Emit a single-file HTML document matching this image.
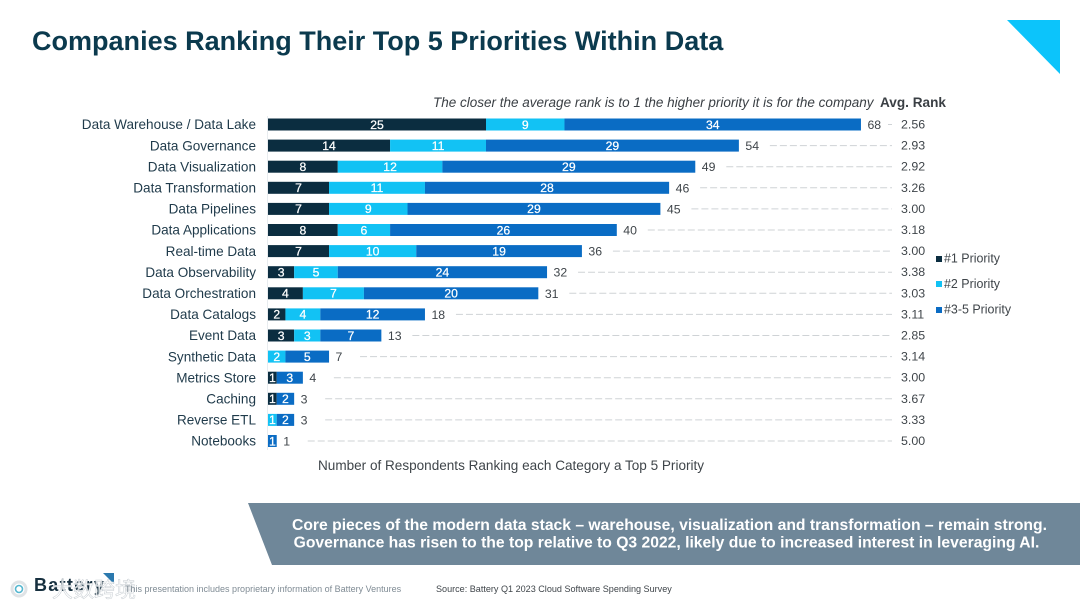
<!DOCTYPE html>
<html lang="en">
<head>
<meta charset="utf-8">
<title>Companies Ranking Their Top 5 Priorities Within Data</title>
<style>
html,body{margin:0;padding:0;background:#fff;width:1080px;height:608px;overflow:hidden}
svg{display:block;font-family:"Liberation Sans",Arial,sans-serif;filter:blur(0.35px)}
</style>
</head>
<body>
<svg id="slide" width="1080" height="608" viewBox="0 0 1080 608" xmlns="http://www.w3.org/2000/svg">
  <rect width="1080" height="608" fill="#ffffff"/>
  <text x="32" y="50" font-size="27.03" font-weight="700" fill="#0b3a4e">Companies Ranking Their Top 5 Priorities Within Data</text>
  <polygon points="1007,20 1060,20 1060,74" fill="#0cc4fb"/>
  <text x="433" y="107" font-size="13.5" font-style="italic" fill="#3a3f44">The closer the average rank is to 1 the higher priority it is for the company</text>
  <text x="880" y="107" font-size="13.6" font-weight="700" fill="#3a3f44">Avg. Rank</text>
  <line x1="267.5" y1="116" x2="267.5" y2="450" stroke="#e8ecef" stroke-width="1"/>
  <g id="chart"></g>
  <g font-size="12.45" fill="#3f454a">
    <g>
      <rect x="936" y="256" width="6" height="6" fill="#0b2d40"/>
      <text x="944" y="262.5">#1 Priority</text>
    </g>
    <g>
      <rect x="936" y="281" width="6" height="6" fill="#12c2f4"/>
      <text x="944" y="288">#2 Priority</text>
    </g>
    <g>
      <rect x="936" y="307" width="6" height="6" fill="#0a6cc4"/>
      <text x="944" y="313.5">#3-5 Priority</text>
    </g>
  </g>
  <text x="318" y="470" font-size="13.55" fill="#3f454a">Number of Respondents Ranking each Category a Top 5 Priority</text>
  <polygon points="248,503 1080,503 1080,565 272,565" fill="#6f8799"/>
  <text x="669.5" y="530" text-anchor="middle" font-size="15.7" font-weight="700" fill="#ffffff">Core pieces of the modern data stack – warehouse, visualization and transformation – remain strong.</text>
  <text x="666.5" y="547.5" text-anchor="middle" font-size="15.7" font-weight="700" fill="#ffffff">Governance has risen to the top relative to Q3 2022, likely due to increased interest in leveraging AI.</text>
  <g>
    <circle cx="19" cy="589" r="7" fill="none" stroke="#dfe3e6" stroke-width="3"/>
    <circle cx="19" cy="589" r="3.5" fill="none" stroke="#55b7d0" stroke-width="1.6"/>
    <text x="34" y="591" font-size="18" font-weight="700" letter-spacing="1.3" fill="#17303f">Battery</text>
    <polygon points="103,573 114,573 114,584" fill="#2b79ae"/>
  </g>
  <text x="52" y="597" font-size="21" fill="#ffffff" fill-opacity="0.8" stroke="#c8ced3" stroke-width="0.5" font-family="'Liberation Sans','Noto Sans CJK SC',sans-serif">大数跨境</text>
  <text x="125" y="592" font-size="9" fill="#7f8b94">This presentation includes proprietary information of Battery Ventures</text>
  <text x="436" y="592" font-size="9.07" fill="#3f454a">Source: Battery Q1 2023 Cloud Software Spending Survey</text>
</svg>
<script>
var categories = ["Data Warehouse / Data Lake","Data Governance","Data Visualization","Data Transformation","Data Pipelines","Data Applications","Real-time Data","Data Observability","Data Orchestration","Data Catalogs","Event Data","Synthetic Data","Metrics Store","Caching","Reverse ETL","Notebooks"];
var priority1 = [25,14,8,7,7,8,7,3,4,2,3,0,1,1,0,0];
var priority2 = [9,11,12,11,9,6,10,5,7,4,3,2,0,0,1,0];
var priority35 = [34,29,29,28,29,26,19,24,20,12,7,5,3,2,2,1];
var totals = [68,54,49,46,45,40,36,32,31,18,13,7,4,3,3,1];
var avgRanks = ["2.56","2.93","2.92","3.26","3.00","3.18","3.00","3.38","3.03","3.11","2.85","3.14","3.00","3.67","3.33","5.00"];

var NS = "http://www.w3.org/2000/svg";
var chart = document.getElementById("chart");
function xScale(v){ return 268 + v * 8.72; }
function yScale(i){ return 124.5 + i * 21.1; }
function svgEl(tag, attrs){
  var el = document.createElementNS(NS, tag);
  for (var k in attrs) el.setAttribute(k, attrs[k]);
  return el;
}
function addText(parent, x, y, anchor, size, fill, str, name, halo){
  var t = svgEl("text", {x:x, y:y, "text-anchor":anchor, "font-size":size, fill:fill});
  if (halo) { t.setAttribute("stroke", fill); t.setAttribute("stroke-width", halo); }
  
  
  t.textContent = str;
  parent.appendChild(t);
}
var seriesColors = ["#0b2d40","#12c2f4","#0a6cc4"];
var seriesNames = ["priority-1","priority-2","priority-3-5"];
var seriesValues = [priority1, priority2, priority35];
categories.forEach(function(cat, i){
  var y = yScale(i);
  var row = svgEl("g", {});
  
  
  chart.appendChild(row);
  addText(row, 256, y + 4.7, "end", 13.55, "#1f3a4a", cat, "category-label");
  var start = 0;
  seriesValues.forEach(function(vals, s){
    var v = vals[i];
    if (!v) return;
    var x0 = xScale(start), x1 = xScale(start + v);
    var bar = svgEl("rect", {x:x0, y:y - 6, width:x1 - x0, height:12, fill:seriesColors[s]});
    
    
    bar.setAttribute('data-series', seriesNames[s]);
    row.appendChild(bar);
    addText(row, (x0 + x1) / 2, y + 4.3, "middle", 12.2, "#ffffff", String(v), "segment-value", 0.25);
    start += v;
  });
  var end = xScale(start);
  addText(row, end + 6.5, y + 4.5, "start", 12.3, "#3f454a", String(totals[i]), "total-value");
  var leader = svgEl("line", {x1:Math.min(end + 31, 888), y1:y, x2:892, y2:y, stroke:"#cfd3d6", "stroke-width":1, "stroke-dasharray":"7 3"});
  
  
  row.appendChild(leader);
  addText(row, 901, y + 4, "start", 12.4, "#3f454a", avgRanks[i], "avg-rank-value");
});
</script>
</body>
</html>
